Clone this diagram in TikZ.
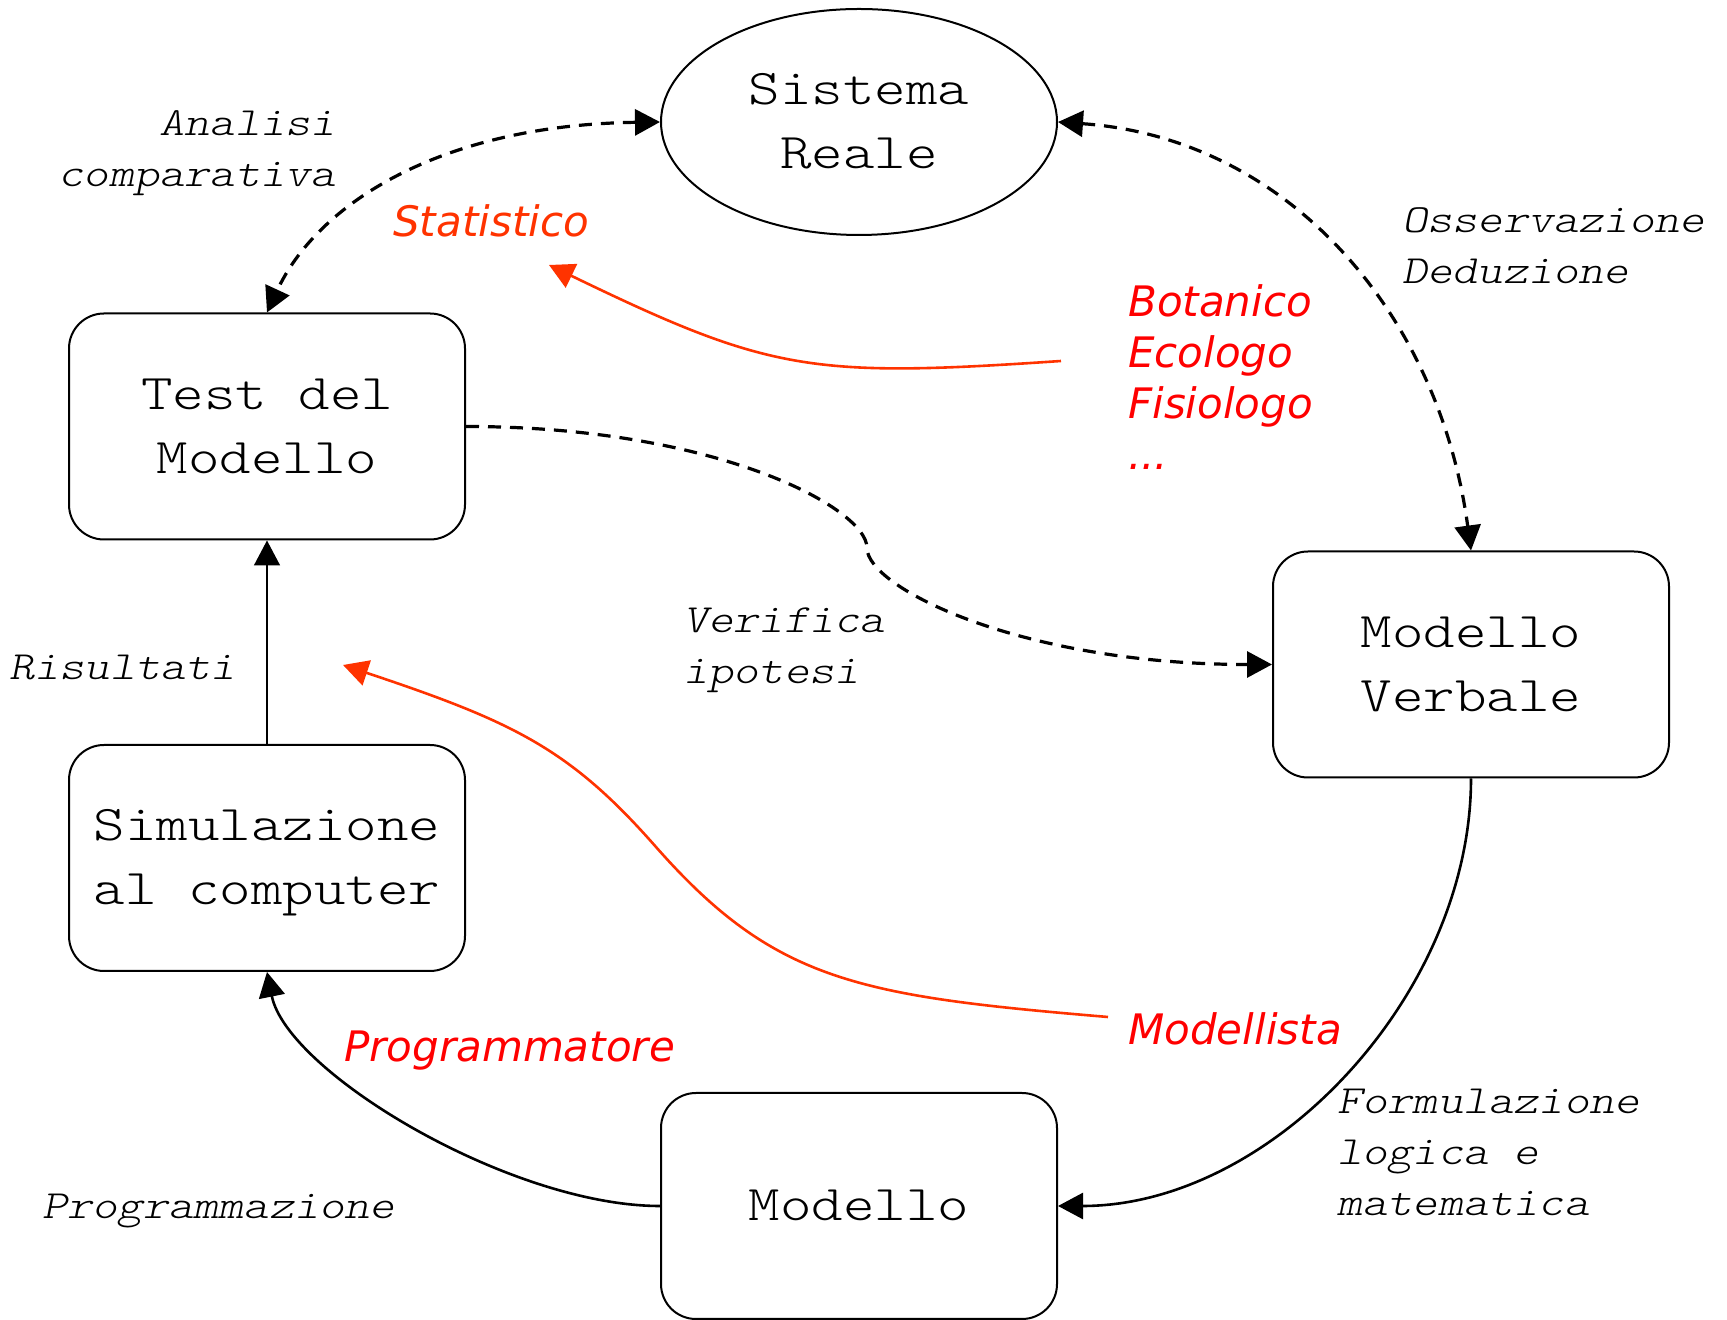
\documentclass[tikz,border=0pt]{standalone}
\usepackage{fontspec}
\usetikzlibrary{arrows.meta,shapes.geometric}

\newfontfamily\boxfont{lmmonolt10-regular}[Extension=.otf,
  ItalicFont=lmmonolt10-oblique, FakeStretch=1.2]
\newfontfamily\rolefont{DejaVu Sans}[ItalicFont={DejaVu Sans Oblique}]
\newcommand\lnstrut{\rule{0pt}{36pt}}
\newcommand\stagetop{\rule{0pt}{40pt}}
\newcommand\stagebot{\rule[-10pt]{0pt}{10pt}}

\definecolor{linkred}{RGB}{255,51,0}
\definecolor{rolered}{RGB}{255,0,0}

\tikzset{
  >={Triangle[length=25pt,width=26pt]},
  txt/.style={font=\boxfont\fontsize{50}{64}\selectfont, align=center, inner sep=0pt},
  stage/.style={txt, draw, line width=2pt, rounded corners=35pt,
                minimum width=396pt, minimum height=226pt},
  realsys/.style={txt, draw, ellipse, line width=2pt,
                minimum width=396pt, minimum height=226pt},
  lbl/.style={font=\boxfont\itshape\fontsize{40}{51}\selectfont, inner sep=0pt},
  role/.style={font=\rolefont\itshape\fontsize{42}{51}\selectfont, inner sep=0pt, text=rolered},
  dashpat/.style={line width=3.2pt, dash pattern=on 13pt off 9pt},
  dashlink/.style={dashpat, <->},
  flow/.style={line width=2.6pt, ->},
  rolelink/.style={line width=2.6pt, draw=linkred, ->, fill=none},
}

\begin{document}
\begin{tikzpicture}[x=1pt, y=1pt]
  \path[use as bounding box] (0,0) rectangle (1727,1320);

  % main stages of the modelling cycle
  \node[realsys] (SR)  at (859,1198)  {\stagetop Sistema\\Reale\stagebot};
  \node[stage]   (TM)  at (267,893.5) {\stagetop Test del\\Modello\stagebot};
  \node[stage]   (SIM) at (267,462)   {\stagetop Simulazione\\al computer\stagebot};
  \node[stage]   (MV)  at (1471,655.5){\stagetop Modello\\Verbale\stagebot};
  \node[stage]   (MOD) at (859,114)   {\stagetop Modello\stagebot};

  % activity labels
  \node[lbl, anchor=north east, align=right] (lAnalisi) at (336,1221)
       {\lnstrut Analisi\\comparativa};
  \node[lbl, anchor=north west, align=left] (lOss) at (1402,1123.3)
       {\lnstrut Osservazione\\Deduzione};
  \node[lbl, anchor=north west, align=left] (lVer) at (683,723.7)
       {\lnstrut Verifica\\ipotesi};
  \node[lbl, anchor=base west] (lRis) at (9,640.4) {Risultati};
  \node[lbl, anchor=north west, align=left] (lForm) at (1337,242.7)
       {\lnstrut Formulazione\\logica e\\matematica};
  \node[lbl, anchor=base west] (lProg) at (42,101.7) {Programmazione};

  % roles
  \node[role, anchor=base west, text=linkred] (rStat) at (393,1083.3) {Statistico};
  \node[role, anchor=north west, align=left] (rBot) at (1128,1039.3)
       {\lnstrut Botanico\\Ecologo\\Fisiologo\\...};
  \node[role, anchor=base west] (rProg) at (344,258.3) {Programmatore};
  \node[role, anchor=base west] (rMod) at (1128,275) {Modellista};

  % cycle connectors
  \draw[dashlink] (SR.west) .. controls +(-220,-3) and +(50,108) .. (TM.north);
  \draw[dashlink] (SR.east) .. controls +(230,-16) and +(-32,237) .. (MV.north);

  \coordinate (verBend) at (867,772);
  \draw[dashpat, ->]
       (TM.east) .. controls +(250,0) and +(0,40) .. (verBend)
       .. controls +(0,-40) and +(-250,0) .. (MV.west);

  \draw[line width=1.6pt, ->] (SIM.north) -- (TM.south);
  \draw[flow] (MV.south) .. controls +(0,-215) and +(215,0) .. (MOD.east);
  \draw[flow] (MOD.west) .. controls +(-150,0) and +(20,-100) .. (SIM.south);

  % role arrows
  \coordinate (botStart) at (1061,959);
  \coordinate (statTip)  at (549,1055);
  \draw[rolelink] (botStart) .. controls (811,942) and (770,948) .. (statTip);

  \coordinate (modStart) at (1108,303);
  \coordinate (modBend)  at (656,473);
  \coordinate (modTip)   at (343,655);
  \draw[rolelink] (modStart) .. controls (859,324) and (775,338) .. (modBend)
       .. controls (570,571) and (514,598) .. (modTip);
\end{tikzpicture}
\end{document}
